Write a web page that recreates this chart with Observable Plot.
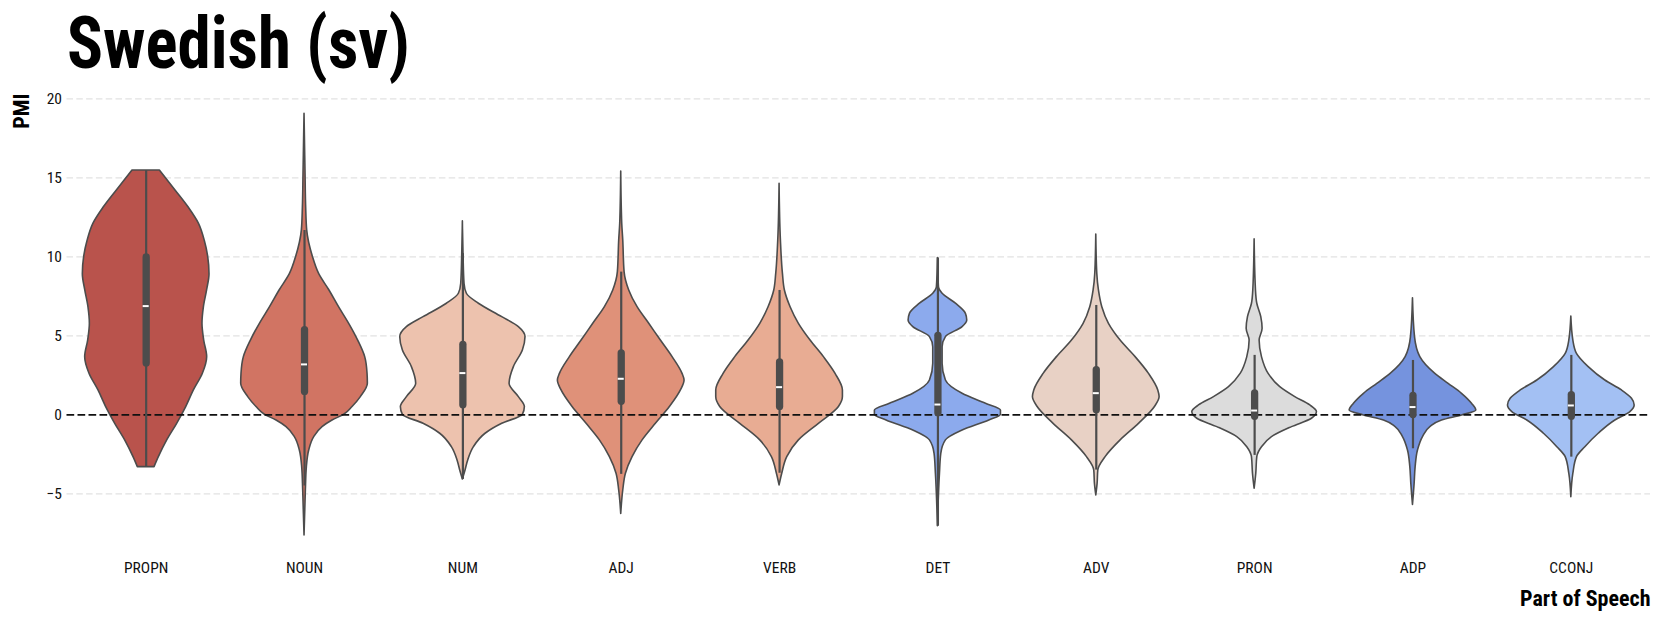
<!DOCTYPE html>
<html>
<head>
<meta charset="utf-8">
<script src="https://cdn.jsdelivr.net/npm/d3@7"></script>
<script src="https://cdn.jsdelivr.net/npm/@observablehq/plot@0.6"></script>
<style>
  html, body { margin: 0; padding: 0; background: #fff; }
  body { width: 1661px; height: 622px; overflow: hidden; font-family: "Roboto Condensed", Roboto, sans-serif; }
  #title { display: block; margin-bottom: -14px; }
  #chart svg { display: block; }
</style>
</head>
<body>
<svg id="title" width="1661" height="94" viewBox="0 0 1661 94">
  <text x="67" y="68" textLength="343" lengthAdjust="spacingAndGlyphs"
        style="font-family: 'Roboto Condensed', Roboto, sans-serif; font-weight: 700; font-size: 73px; fill: #000;">Swedish (sv)</text>
</svg>
<div id="chart"></div>
<script>
// ---- data ----
const categories = ["PROPN", "NOUN", "NUM", "ADJ", "VERB", "DET", "ADV", "PRON", "ADP", "CCONJ"];
const colors = ["#b9534c", "#d17463", "#edc2ae", "#df9179", "#e8ac93", "#8caaed", "#e8d1c5", "#dcdcdc", "#7593de", "#a3c0f3"];

// box statistics (PMI)
const q1 = [3.25, 1.45, 0.61, 0.82, 0.50, 0.10, 0.29, -0.13, -0.02, -0.13];
const median = [6.88, 3.19, 2.64, 2.28, 1.75, 0.65, 1.37, 0.27, 0.49, 0.59];
const q3 = [9.96, 5.36, 4.43, 3.88, 3.31, 5.00, 2.83, 1.35, 1.20, 1.25];
const whiskerLow = [-3.31, -4.5, -4.09, -3.77, -3.7, -7.05, -3.5, -2.57, -2.15, -2.68];
const whiskerHigh = [15.46, 11.67, 10.2, 9.03, 7.87, 9.92, 6.92, 3.76, 3.44, 3.76];

// violin profiles: [PMI value, relative density width]
const propnProfile = [[15.46,0.216],[14.2,0.463],[13.1,0.674],[12.1,0.832],[11.0,0.926],[10.0,0.979],[8.9,1.0],[7.9,0.963],[6.8,0.911],[5.76,0.889],[4.7,0.916],[3.65,0.963],[2.6,0.895],[1.54,0.753],[0.49,0.632],[-0.57,0.489],[-1.62,0.332],[-2.68,0.2],[-3.31,0.132]];
const nounProfile = [[19.05,0],[15.25,0.016],[13.1,0.026],[11.67,0.042],[10.0,0.132],[8.9,0.232],[7.9,0.389],[6.8,0.547],[5.76,0.705],[4.7,0.847],[3.65,0.958],[2.6,0.995],[1.96,1.0],[1.12,0.889],[0.49,0.758],[0,0.626],[-0.36,0.442],[-0.78,0.284],[-1.41,0.153],[-2.26,0.074],[-3.31,0.037],[-4.79,0.021],[-7.64,0]];
const numProfile = [[12.24,0],[9.98,0.011],[8.29,0.026],[7.66,0.063],[7.03,0.253],[6.18,0.621],[5.55,0.884],[4.92,0.989],[4.07,0.947],[3.02,0.805],[1.96,0.737],[1.12,0.884],[0.49,0.979],[0,0.947],[-0.57,0.621],[-1.2,0.358],[-2.05,0.174],[-2.89,0.084],[-3.52,0.042],[-4.09,0]];
const adjProfile = [[15.4,0],[12.09,0.016],[11.03,0.032],[9.03,0.053],[7.87,0.126],[6.81,0.258],[5.76,0.442],[4.7,0.626],[3.65,0.811],[2.59,0.968],[2.17,1.0],[1.54,0.942],[0.49,0.768],[-0.57,0.547],[-1.62,0.337],[-2.68,0.179],[-3.73,0.074],[-4.79,0.032],[-6.27,0]];
const verbProfile = [[14.62,0],[11.03,0.021],[8.92,0.053],[7.87,0.084],[6.81,0.174],[5.76,0.305],[4.7,0.489],[3.65,0.7],[2.59,0.884],[1.54,1.0],[1.12,1.0],[0.49,0.937],[-0.57,0.621],[-1.62,0.305],[-2.68,0.121],[-3.73,0.042],[-4.47,0]];
const detProfile = [[9.92,0],[8.08,0.016],[7.66,0.074],[7.03,0.284],[6.39,0.442],[5.97,0.463],[5.55,0.389],[4.92,0.126],[4.28,0.074],[3.23,0.074],[2.17,0.126],[1.33,0.389],[0.7,0.758],[0.27,0.995],[0,0.995],[-0.36,0.811],[-1.0,0.389],[-1.62,0.126],[-2.47,0.053],[-3.73,0.032],[-7.05,0]];
const advProfile = [[11.41,0],[8.92,0.016],[7.87,0.042],[6.81,0.095],[5.76,0.2],[4.7,0.384],[3.65,0.621],[2.59,0.832],[1.54,0.979],[1.12,1.0],[0.49,0.926],[-0.57,0.674],[-1.62,0.384],[-2.68,0.147],[-3.52,0.032],[-4.37,0.021],[-5.1,0]];
const pronProfile = [[11.1,0],[7.87,0.021],[7.03,0.042],[6.18,0.105],[5.44,0.126],[4.7,0.079],[3.65,0.116],[2.59,0.221],[1.75,0.405],[1.12,0.642],[0.59,0.879],[0.17,0.984],[-0.25,0.905],[-0.78,0.589],[-1.41,0.274],[-2.05,0.116],[-2.68,0.042],[-3.73,0.026],[-4.68,0]];
const adpProfile = [[7.38,0],[4.92,0.032],[3.65,0.116],[2.59,0.353],[1.96,0.563],[1.33,0.774],[0.7,0.932],[0.27,1.0],[-0.04,0.774],[-0.36,0.458],[-0.78,0.274],[-1.41,0.158],[-2.26,0.079],[-3.31,0.042],[-4.37,0.026],[-5.7,0]];
const cconjProfile = [[6.22,0],[4.7,0.032],[3.86,0.089],[3.02,0.274],[2.17,0.537],[1.54,0.8],[1.01,0.958],[0.59,1.0],[0.17,0.932],[-0.36,0.695],[-1.2,0.432],[-2.05,0.221],[-2.68,0.089],[-3.73,0.032],[-5.21,0]];

const yTicks = [-5, 0, 5, 10, 15, 20];
const gridTicks = [-5, 5, 10, 15, 20];

// ---- build tables ----
const profiles = [propnProfile, nounProfile, numProfile, adjProfile, verbProfile, detProfile, advProfile, pronProfile, adpProfile, cconjProfile];
const violinRows = profiles.flatMap((p, i) => p.map(([y, d]) => ({i, y, d})).sort((a, b) => a.y - b.y));
const idx = d3.range(categories.length);
const halfWidth = 0.4;
const edge = "#4c4c4c";

const chart = Plot.plot({
  width: 1661,
  height: 542,
  marginLeft: 66.5,
  marginRight: 11,
  marginTop: 10.4,
  marginBottom: 81.3,
  style: {fontFamily: "'Roboto Condensed', Roboto, sans-serif", fontStretch: "condensed", fontSize: "15.5px", color: "#111", background: "transparent"},
  x: {domain: [-0.5, categories.length - 0.5], ticks: idx, tickFormat: i => categories[i], tickSize: 0, tickPadding: 21, label: null},
  y: {domain: [-8, 20.5], ticks: yTicks, tickSize: 0, tickPadding: 5, label: null},
  color: {type: "identity"},
  marks: [
    Plot.ruleY(gridTicks, {stroke: "#e2e2e2", strokeWidth: 1.3, strokeDasharray: "6.5,3.3"}),
    Plot.areaX(violinRows, {
      y: "y",
      x1: d => d.i - halfWidth * d.d,
      x2: d => d.i + halfWidth * d.d,
      z: "i",
      fill: d => colors[d.i],
      stroke: edge,
      strokeWidth: 1.6,
      curve: "monotone-y"
    }),
    Plot.ruleY([0], {stroke: "#111", strokeWidth: 1.8, strokeDasharray: "7.7,3.3"}),
    Plot.ruleX(idx, {x: i => i, y1: i => whiskerLow[i], y2: i => whiskerHigh[i], stroke: edge, strokeWidth: 2.2}),
    Plot.ruleX(idx, {x: i => i, y1: i => q1[i], y2: i => q3[i], stroke: edge, strokeWidth: 7.3, strokeLinecap: "round"}),
    Plot.ruleY(idx, {y: i => median[i], x1: i => i - 0.019, x2: i => i + 0.019, stroke: "white", strokeWidth: 2}),
    Plot.text(["Part of Speech"], {text: d => d, frameAnchor: "bottom-right", textAnchor: "end", lineAnchor: "bottom", dy: 64.3, fontWeight: "bold", fontSize: 22, fill: "#000"}),
    Plot.text(["PMI"], {text: d => d, frameAnchor: "top-left", rotate: -90, textAnchor: "end", lineAnchor: "bottom", dx: -38.5, dy: 2.6, fontWeight: "bold", fontSize: 22, fill: "#000"})
  ]
});
document.getElementById("chart").appendChild(chart);
</script>
</body>
</html>
